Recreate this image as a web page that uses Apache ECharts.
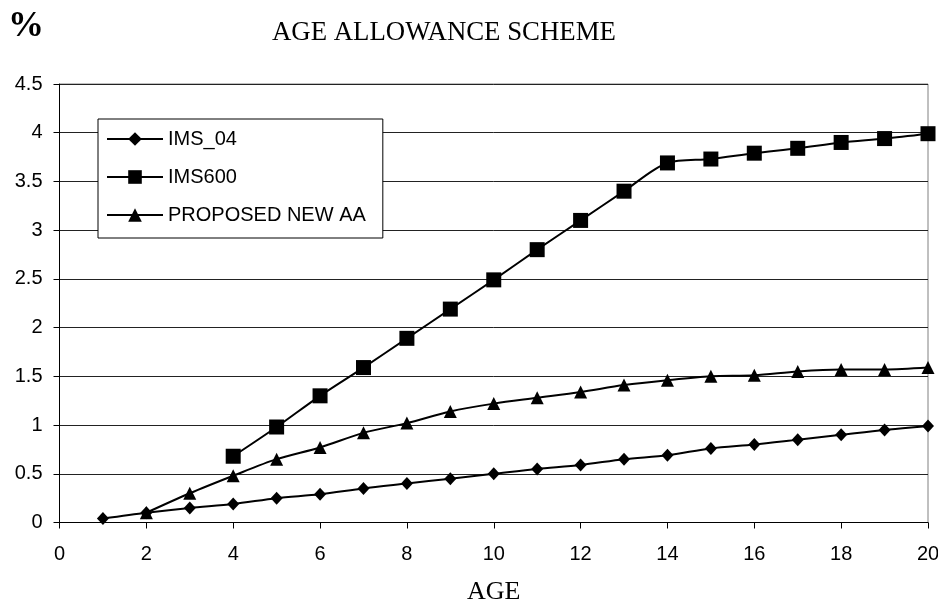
<!DOCTYPE html>
<html>
<head>
<meta charset="utf-8">
<script src="https://cdn.jsdelivr.net/npm/echarts@6/dist/echarts.min.js"></script>
<style>
  html, body { margin: 0; padding: 0; background: #fff; }
  #chart { width: 938px; height: 605px; }
</style>
</head>
<body>
<div id="chart"></div>
<script>
/* age allowance scheme chart */

var ages = [1,2,3,4,5,6,7,8,9,10,11,12,13,14,15,16,17,18,19,20];
var ims04 = [0.04,0.10,0.15,0.19,0.25,0.29,0.35,0.40,0.45,0.50,0.55,0.59,0.65,0.69,0.76,0.80,0.85,0.90,0.95,0.99];
var ims600 = [null,null,null,0.68,0.98,1.30,1.59,1.89,2.19,2.49,2.80,3.10,3.40,3.69,3.73,3.79,3.84,3.90,3.94,3.99];
var proposed = [null,0.10,0.30,0.48,0.65,0.77,0.92,1.02,1.14,1.22,1.28,1.34,1.41,1.46,1.50,1.51,1.55,1.57,1.57,1.59];

function pairs(values) {
	var re = [];
	for (var i=0; i<ages.length; i++) {
		if ( values[i] == null ) continue;
		re.push([ages[i], values[i]]);
	}
	return re;
}

function makeSeries(name, values, symbol, size) {
	return {
		name: name,
		type: 'line',
		smooth: 0.3,
		data: pairs(values),
		symbol: symbol,
		symbolSize: size,
		showAllSymbol: true,
		lineStyle: {color: '#000', width: 2},
		itemStyle: {color: '#000'},
		emphasis: {disabled: true},
		animation: false
	};
}

var myChart = echarts.init(document.getElementById('chart'));

var option = {
	backgroundColor: '#fff',
	animation: false,
	graphic: [{
		type: 'text',
		left: 272, top: 19,
		style: {text: 'AGE ALLOWANCE SCHEME', font: '26.8px "Liberation Serif"', fill: '#000'}
	}, {
		type: 'text',
		left: 8, top: 9,
		style: {text: '%', font: 'bold 36px "Liberation Serif"', fill: '#000'}
	}],
	legend: {
		orient: 'vertical',
		left: 98, top: 119,
		padding: [10, 17, 13, 8],
		itemGap: 18,
		itemWidth: 56,
		itemHeight: 17,
		borderColor: '#000',
		borderWidth: 1,
		backgroundColor: '#fff',
		textStyle: {fontFamily: 'Liberation Sans', fontSize: 20, color: '#000', lineHeight: 20},
		data: ['IMS_04', 'IMS600', 'PROPOSED NEW AA']
	},
	grid: {
		left: 59.5, right: 10, top: 84, bottom: 82.5,
		outerBoundsMode: 'none',
		containLabel: false,
		show: true, borderColor: '#808080', borderWidth: 1
	},
	xAxis: {
		type: 'value',
		min: 0, max: 20, interval: 2,
		name: 'AGE',
		nameLocation: 'middle',
		nameGap: 57,
		nameTextStyle: {fontFamily: 'Liberation Serif', fontSize: 26, color: '#000'},
		axisLine: {lineStyle: {color: '#000', width: 1}},
		axisTick: {show: true, length: 6, lineStyle: {color: '#000'}},
		axisLabel: {fontFamily: 'Liberation Sans', fontSize: 20, color: '#000', margin: 22},
		splitLine: {show: false}
	},
	yAxis: {
		type: 'value',
		min: 0, max: 4.5, interval: 0.5,
		axisLine: {show: true, lineStyle: {color: '#000', width: 1}},
		axisTick: {show: true, length: 6, lineStyle: {color: '#000'}},
		axisLabel: {fontFamily: 'Liberation Sans', fontSize: 20, color: '#000', margin: 17},
		splitLine: {show: true, lineStyle: {color: '#222', width: 1}}
	},
	series: [
		makeSeries('IMS_04', ims04, 'diamond', [12, 13]),
		makeSeries('IMS600', ims600, 'rect', 15),
		makeSeries('PROPOSED NEW AA', proposed, 'triangle', [13, 13])
	]
};

myChart.setOption(option);
</script>
</body>
</html>
